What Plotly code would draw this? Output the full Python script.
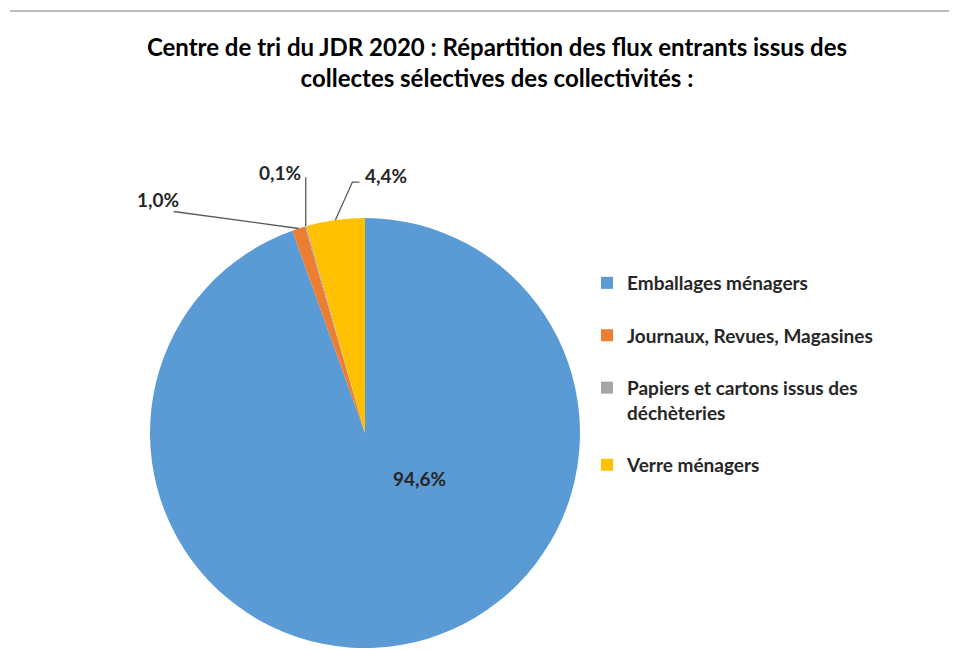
import math
import plotly.graph_objects as go

categories = ["Emballages ménagers", "Journaux, Revues, Magasines",
              "Papiers et cartons issus des<br>déchèteries", "Verre ménagers"]
values = [94.6, 1.0, 0.1, 4.4]
colors = ["#5B9BD5", "#ED7D31", "#A5A5A5", "#FFC000"]

W, H = 957, 650
OFF = 8  # page body margin
cx, cy, R = 365, 433, 215  # page pixel coords


def px(x):
    return (x - OFF) / W


def py(y):
    return (H - (y - OFF)) / H


legend_labels = [categories[0] + "<br> ", categories[1] + "<br> ",
                 categories[2] + "<br> ", categories[3]]

fig = go.Figure(go.Pie(
    labels=legend_labels,
    values=values,
    marker=dict(colors=colors, line=dict(width=0)),
    sort=False,
    direction="clockwise",
    rotation=0,
    textinfo="none",
    hoverinfo="label+percent",
    domain=dict(x=[px(cx - R), px(cx + R)], y=[py(cy + R), py(cy - R)]),
))


def fmt(v):
    return "<b>" + f"{v:.1f}".replace(".", ",") + "%</b>"


total = sum(values)
cum = 0.0
# offsets relative to the slice's outer edge point: label centre, leader polyline
label_offsets = [None, (-141, -29), (-26, -54), (51, -45)]
leader_offsets = [None, [(-125, -17)], [(0, -49)], [(17, -38), (24, -38)]]
annotations = []
shapes = [dict(type="line", xref="paper", yref="paper", x0=px(10), x1=1, y0=py(11), y1=py(11),
               line=dict(color="#A6A6A6", width=1.5))]
lab_font = dict(family="Lato", size=19, color="#262626")
for i, v in enumerate(values):
    mid = (cum + v / 2) / total * 360.0
    cum += v
    if i == 0:
        annotations.append(dict(x=px(cx + 54), y=py(cy + 45), xref="paper", yref="paper",
                                xanchor="center", yanchor="middle",
                                text=fmt(v), showarrow=False, font=lab_font))
        continue
    a = math.radians(mid)
    ex = cx + R * math.sin(a)
    ey = cy - R * math.cos(a)
    lx, ly = label_offsets[i]
    annotations.append(dict(x=px(ex + lx), y=py(ey + ly), xref="paper", yref="paper",
                            xanchor="center", yanchor="middle",
                            text=fmt(v), showarrow=False, font=lab_font))
    pts = [(ex, ey)] + [(ex + dx, ey + dy) for dx, dy in leader_offsets[i]]
    path = "M " + " L ".join(f"{px(x):.5f},{py(y):.5f}" for x, y in pts)
    shapes.append(dict(type="path", xref="paper", yref="paper", path=path,
                       line=dict(color="#595959", width=1.3)))

fig.update_layout(
    width=W, height=H,
    margin=dict(l=0, r=0, t=0, b=0),
    paper_bgcolor="white",
    title=dict(text="<b>Centre de tri du JDR 2020 : Répartition des flux entrants issus des<br>collectes sélectives des collectivités :</b>",
               x=px(497), xanchor="center", y=py(56), yanchor="middle",
               font=dict(family="Lato", size=24, color="#000000")),
    legend=dict(x=px(587), y=py(264), xanchor="left", yanchor="top",
                valign="top", font=dict(family="Lato", size=19, color="#262626", weight="bold"),
                itemwidth=30, bgcolor="rgba(0,0,0,0)"),
    annotations=annotations,
    shapes=shapes,
)

fig.write_html("out.html")
